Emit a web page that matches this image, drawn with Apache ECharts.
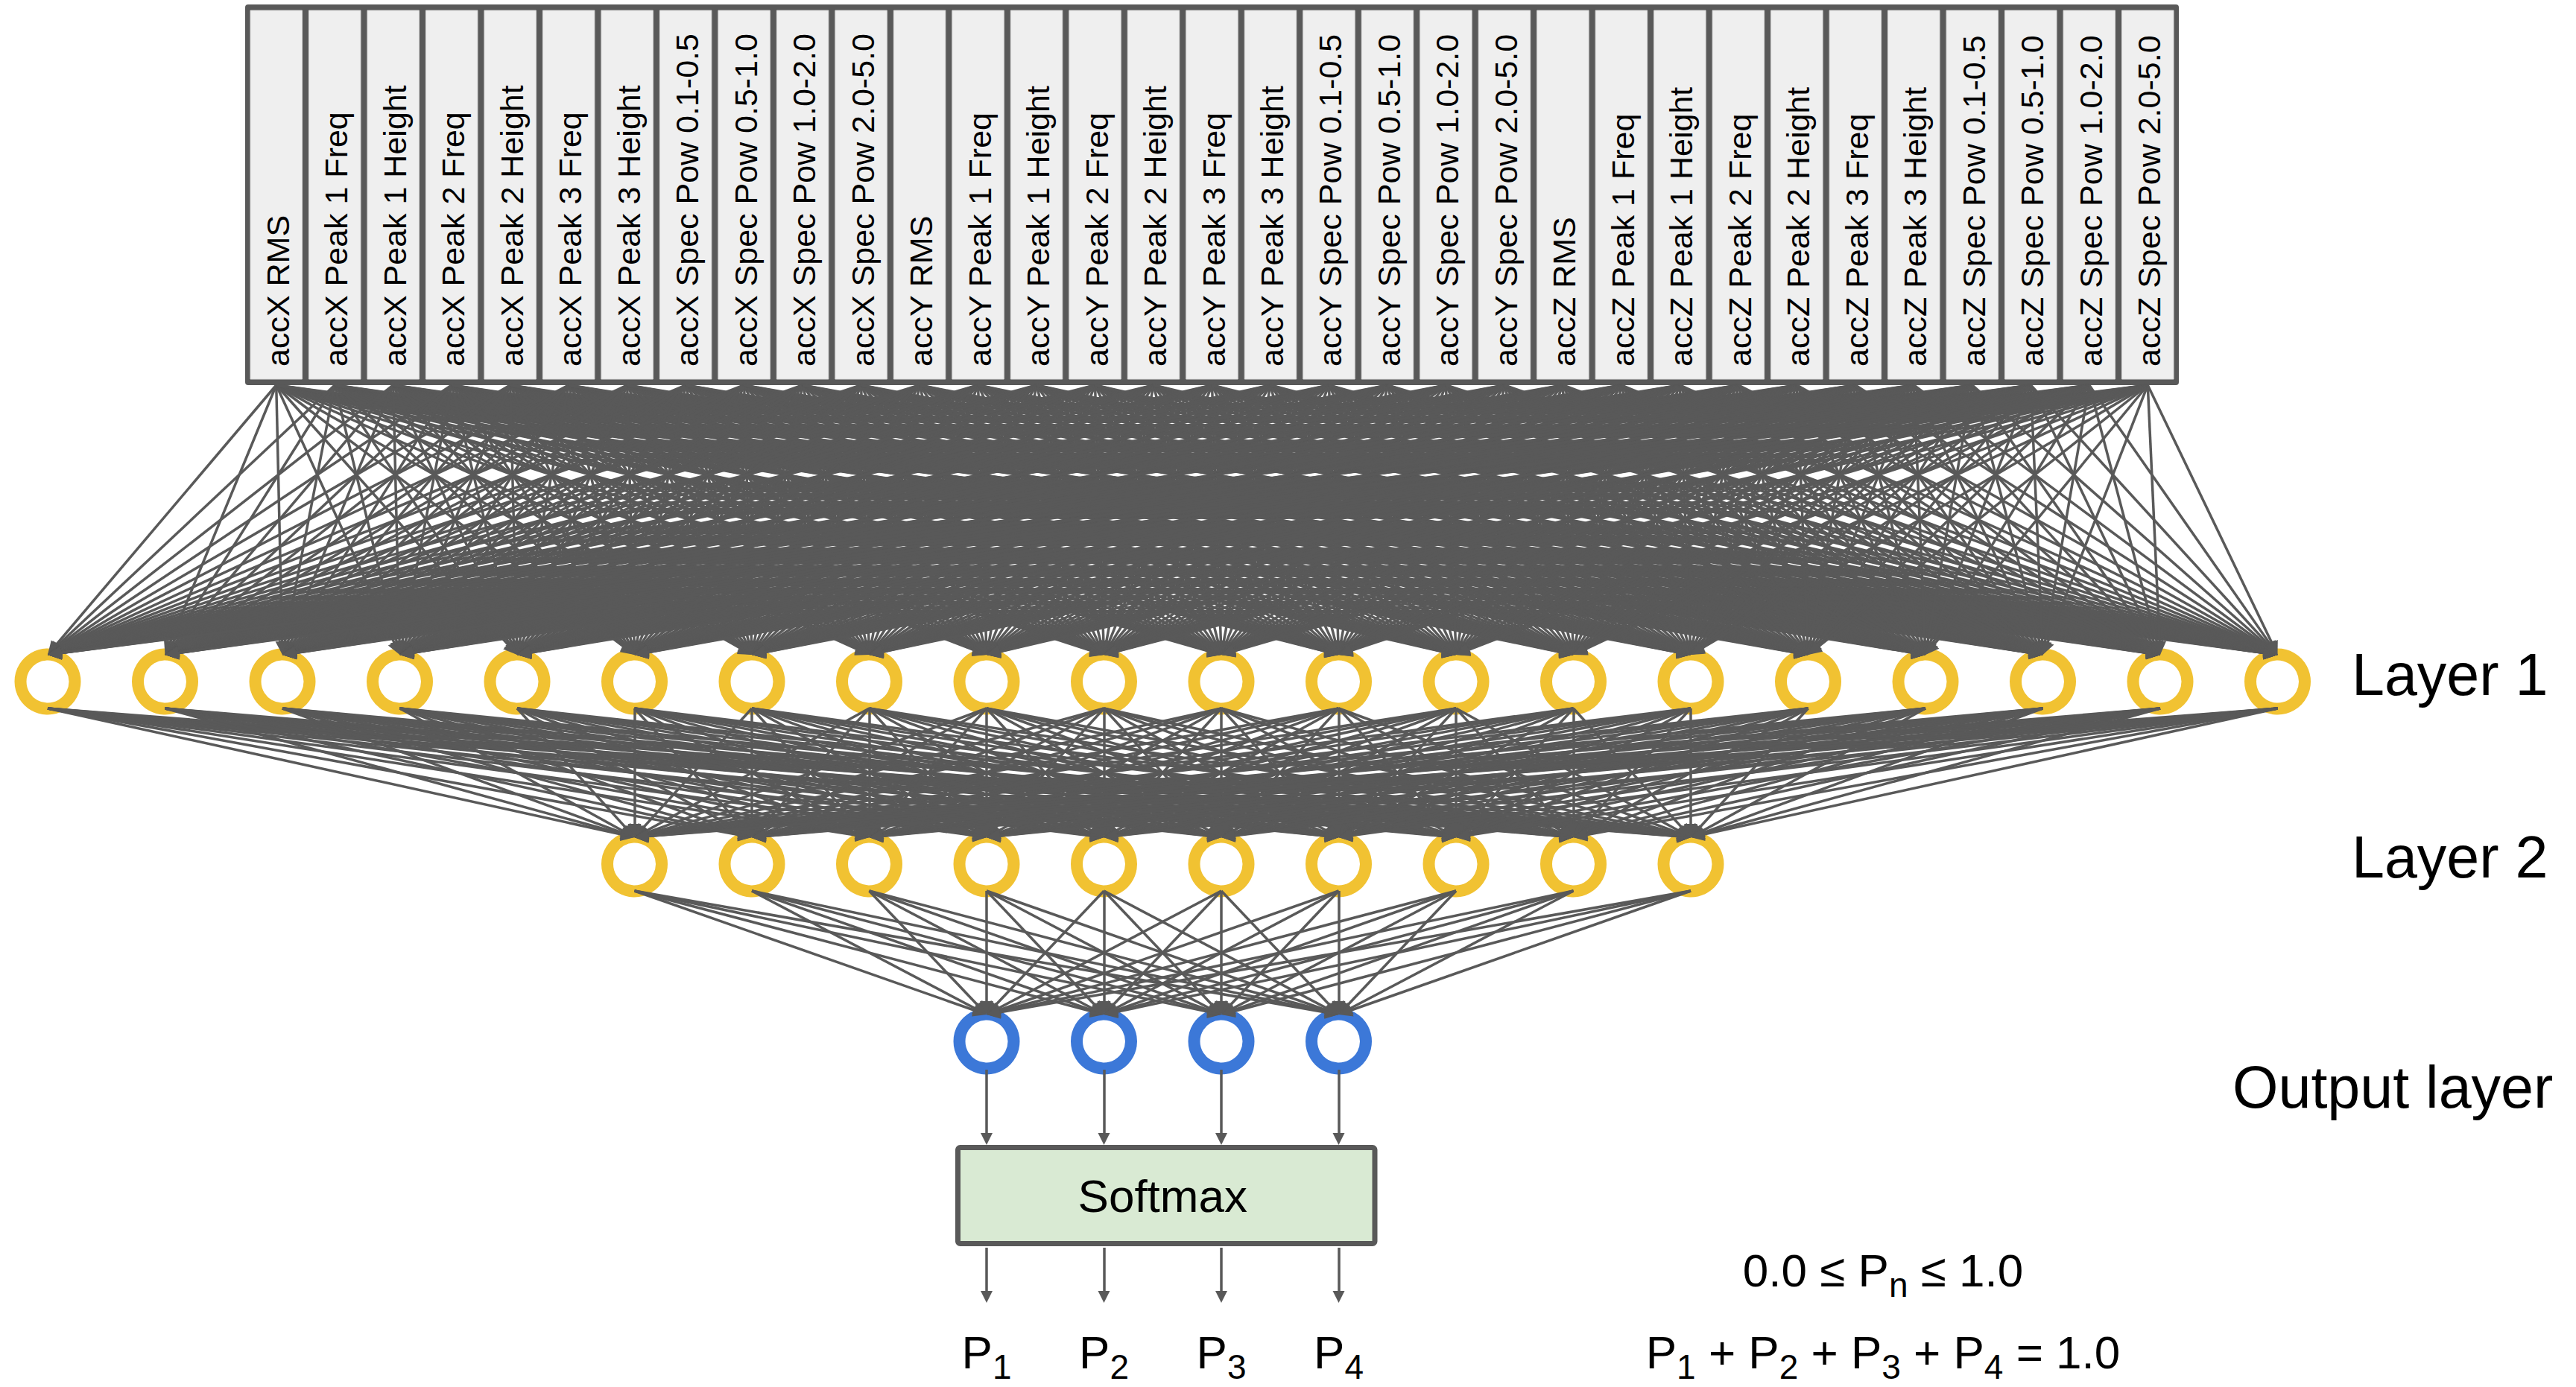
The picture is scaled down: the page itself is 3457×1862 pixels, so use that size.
<!DOCTYPE html>
<html>
<head>
<meta charset="utf-8">
<script src="https://cdn.jsdelivr.net/npm/echarts@6/dist/echarts.min.js"></script>
<style>
html,body{margin:0;padding:0;background:#ffffff;overflow:hidden;}
#chart{width:100vw;height:100vh;}
</style>
</head>
<body>
<div id="chart"></div>
<script>
// ---------------- data ----------------
const sensorAxes = ['accX', 'accY', 'accZ'];
const featureNames = ['RMS', 'Peak 1 Freq', 'Peak 1 Height', 'Peak 2 Freq', 'Peak 2 Height',
  'Peak 3 Freq', 'Peak 3 Height', 'Spec Pow 0.1-0.5', 'Spec Pow 0.5-1.0', 'Spec Pow 1.0-2.0', 'Spec Pow 2.0-5.0'];
const inputLabels = sensorAxes.flatMap(a => featureNames.map(f => a + ' ' + f));
const layer1Units = 20;
const layer2Units = 10;
const outputUnits = 4;
const layerNames = ['Layer 1', 'Layer 2', 'Output layer'];
const outputSubscripts = ['1', '2', '3', '4'];
const blockName = 'Softmax';
const rangeTokens = [['m', '0.0 \u2264 P'], ['s', 'n'], ['m', ' \u2264 1.0']];
const sumTotal = '1.0';

// ---------------- layout / style ----------------
const W = 3457, H = 1862;
const FONT = "'Liberation Sans', Arial, Helvetica, sans-serif";
const LINE = '#595959';
const YELLOW = '#f1c232';
const BLUE = '#3c78d8';
const L = {
  unitX0: 64, unitPitch: 157.5,
  rowL1: 915, rowL2: 1160, rowOut: 1398,
  ringSize: 73, ringWidth: 16, ringInset: 36,
  box: { left: 329, right: 2924, top: 6, bottom: 517, border: 7, divider: 9, textBottom: 492, textShift: 2, fontSize: 43 },
  soft: { padLeft: 42, padRight: 52, top: 1537, bottom: 1673, border: 7, fontSize: 62 },
  outStartGap: 38, pArrowTip: 1749,
  arrowBig: 18, arrowSmall: 16, lineWidth: 3.5,
  labelX: [3156, 3156, 2996], labelY: [905.5, 1150.5, 1459.5], labelFont: 79,
  mathFont: 62, subFont: 46, subDrop: 19, subBox: 34,
  pBaseline: 1837, formulaX: 2527, formulaBaselines: [1727, 1837]
};

const unitX = i => L.unitX0 + i * L.unitPitch;
const l2Off = (layer1Units - layer2Units) / 2;
const outOff = (layer1Units - outputUnits) / 2;
const nIn = inputLabels.length;
const cellInner = (L.box.right - L.box.left - 2 * L.box.border - (nIn - 1) * L.box.divider) / nIn;
const cellLeft = i => L.box.left + L.box.border + i * (cellInner + L.box.divider);
const cellX = i => cellLeft(i) + cellInner / 2;

function arrowCoords(x1, y1, x2, y2, size) {
  const dx = x2 - x1, dy = y2 - y1, len = Math.hypot(dx, dy);
  const k = (len - size / 2) / len;
  return { coords: [[x1, y1], [x1 + dx * k, y1 + dy * k]] };
}

// edges
const edgesIn = [];
for (let i = 0; i < nIn; i++) for (let j = 0; j < layer1Units; j++)
  edgesIn.push(arrowCoords(cellX(i), L.box.bottom, unitX(j), L.rowL1 - L.ringInset, L.arrowBig));
const edges12 = [];
for (let j = 0; j < layer1Units; j++) for (let k = 0; k < layer2Units; k++)
  edges12.push(arrowCoords(unitX(j), L.rowL1 + L.ringInset, unitX(l2Off + k), L.rowL2 - L.ringInset, L.arrowBig));
const edges2o = [];
for (let k = 0; k < layer2Units; k++) for (let m = 0; m < outputUnits; m++)
  edges2o.push(arrowCoords(unitX(l2Off + k), L.rowL2 + L.ringInset, unitX(outOff + m), L.rowOut - L.ringInset, L.arrowBig));
const edgesSoft = [], edgesProb = [];
for (let m = 0; m < outputUnits; m++) {
  const x = unitX(outOff + m);
  edgesSoft.push(arrowCoords(x, L.rowOut + L.outStartGap, x, L.soft.top, L.arrowSmall));
  edgesProb.push(arrowCoords(x, L.soft.bottom + 2, x, L.pArrowTip, L.arrowSmall));
}

function linesSeries(name, data, size) {
  return {
    name, type: 'lines', coordinateSystem: 'cartesian2d', silent: true, z: 3,
    symbol: ['none', 'triangle'], symbolSize: [0, size], progressive: 0, animation: false,
    lineStyle: { color: LINE, width: L.lineWidth, opacity: 1, curveness: 0 },
    data
  };
}
function ringSeries(name, count, offset, row, color) {
  const data = [];
  for (let i = 0; i < count; i++) data.push([unitX(offset + i), row]);
  return {
    name, type: 'scatter', silent: true, z: 2, symbol: 'circle', symbolSize: L.ringSize,
    itemStyle: { color: '#ffffff', borderColor: color, borderWidth: L.ringWidth, opacity: 1 },
    data, animation: false
  };
}

// rich text: main tokens centred at lineTop + mathFont/2, subscripts pushed down by top padding
const richStyles = {
  m: { fontSize: L.mathFont, lineHeight: L.mathFont, verticalAlign: 'top', fontFamily: FONT, fill: '#000' },
  s: { fontSize: L.subFont, height: L.subBox, verticalAlign: 'top', fontFamily: FONT, fill: '#000',
       padding: [L.mathFont / 2 + L.subDrop - L.subBox / 2, 0, 0, 0] }
};
const richText = tokens => tokens.map(t => '{' + t[0] + '|' + t[1] + '}').join('');
const topFromBaseline = b => b - (L.mathFont / 2 + 0.3465 * L.mathFont);

const sumTokens = [];
outputSubscripts.forEach((s, i) => {
  sumTokens.push(['m', (i === 0 ? '' : ' + ') + 'P']);
  sumTokens.push(['s', s]);
});
sumTokens.push(['m', ' = ' + sumTotal]);
const formulas = [rangeTokens, sumTokens];

const option = {
  animation: false,
  backgroundColor: '#ffffff',
  grid: { left: 0, right: 0, top: 0, bottom: 0, containLabel: false, outerBoundsMode: 'none' },
  xAxis: { type: 'value', min: 0, max: W, show: false },
  yAxis: { type: 'value', min: 0, max: H, inverse: true, show: false },
  series: [
    {
      name: 'inputs', type: 'custom', coordinateSystem: 'cartesian2d', silent: true, z: 1,
      data: inputLabels.map((t, i) => [i, 0]),
      renderItem(params, api) {
        const i = api.value(0);
        const children = [];
        if (i === 0) {
          const a = api.coord([L.box.left, L.box.top]);
          const b = api.coord([L.box.right, L.box.bottom]);
          children.push({ type: 'rect', shape: { x: a[0], y: a[1], width: b[0] - a[0], height: b[1] - a[1], r: 4 },
            style: { fill: LINE } });
        }
        const p = api.coord([cellLeft(i), L.box.top + L.box.border + 1]);
        const q = api.coord([cellLeft(i) + cellInner, L.box.bottom - L.box.border - 1]);
        children.push({ type: 'rect', shape: { x: p[0], y: p[1], width: q[0] - p[0], height: q[1] - p[1] },
          style: { fill: '#efefef', stroke: '#d6d6d6', lineWidth: 1 } });
        const t = api.coord([cellX(i) + L.box.textShift, L.box.textBottom]);
        children.push({ type: 'text', x: t[0], y: t[1], rotation: Math.PI / 2,
          style: { text: inputLabels[params.dataIndex], fontSize: L.box.fontSize, fontFamily: FONT, fill: '#000',
            align: 'left', verticalAlign: 'middle' } });
        return { type: 'group', children };
      }
    },
    linesSeries('in-l1', edgesIn, L.arrowBig),
    linesSeries('l1-l2', edges12, L.arrowBig),
    linesSeries('l2-out', edges2o, L.arrowBig),
    linesSeries('out-soft', edgesSoft, L.arrowSmall),
    linesSeries('soft-p', edgesProb, L.arrowSmall),
    ringSeries('Layer 1', layer1Units, 0, L.rowL1, YELLOW),
    ringSeries('Layer 2', layer2Units, l2Off, L.rowL2, YELLOW),
    ringSeries('Output layer', outputUnits, outOff, L.rowOut, BLUE),
    {
      name: 'softmax', type: 'custom', coordinateSystem: 'cartesian2d', silent: true, z: 1,
      data: [[0, 0]],
      renderItem(params, api) {
        const x0 = unitX(outOff) - L.soft.padLeft, x1 = unitX(outOff + outputUnits - 1) + L.soft.padRight;
        const h = L.soft.border / 2;
        const a = api.coord([x0 + h, L.soft.top + h]);
        const b = api.coord([x1 - h, L.soft.bottom - h]);
        const c = api.coord([(unitX(outOff) + unitX(outOff + outputUnits - 1)) / 2, (L.soft.top + L.soft.bottom) / 2]);
        return { type: 'group', children: [
          { type: 'rect', shape: { x: a[0], y: a[1], width: b[0] - a[0], height: b[1] - a[1], r: 3 },
            style: { fill: '#d9ead3', stroke: LINE, lineWidth: L.soft.border } },
          { type: 'text', x: c[0], y: c[1],
            style: { text: blockName, fontSize: L.soft.fontSize, fontFamily: FONT, fill: '#000', align: 'center', verticalAlign: 'middle' } }
        ] };
      }
    },
    {
      name: 'layerLabels', type: 'custom', coordinateSystem: 'cartesian2d', silent: true, z: 4,
      data: layerNames.map((n, i) => [i, 0]),
      renderItem(params, api) {
        const i = params.dataIndex;
        const p = api.coord([L.labelX[i], L.labelY[i]]);
        return { type: 'text', x: p[0], y: p[1],
          style: { text: layerNames[i], fontSize: L.labelFont, fontFamily: FONT, fill: '#000', align: 'left', verticalAlign: 'middle' } };
      }
    },
    {
      name: 'probLabels', type: 'custom', coordinateSystem: 'cartesian2d', silent: true, z: 4,
      data: outputSubscripts.map((s, i) => [i, 0]),
      renderItem(params, api) {
        const i = params.dataIndex;
        const p = api.coord([unitX(outOff + i), topFromBaseline(L.pBaseline)]);
        return { type: 'text', x: p[0], y: p[1],
          style: { text: richText([['m', 'P'], ['s', outputSubscripts[i]]]), rich: richStyles,
            fontSize: L.mathFont, fontFamily: FONT, fill: '#000', align: 'center', verticalAlign: 'top' } };
      }
    },
    {
      name: 'constraints', type: 'custom', coordinateSystem: 'cartesian2d', silent: true, z: 4,
      data: formulas.map((f, i) => [i, 0]),
      renderItem(params, api) {
        const i = params.dataIndex;
        const p = api.coord([L.formulaX, topFromBaseline(L.formulaBaselines[i])]);
        return { type: 'text', x: p[0], y: p[1],
          style: { text: richText(formulas[i]), rich: richStyles,
            fontSize: L.mathFont, fontFamily: FONT, fill: '#000', align: 'center', verticalAlign: 'top' } };
      }
    }
  ]
};

const chart = echarts.init(document.getElementById('chart'), null, { renderer: 'svg' });
chart.setOption(option);
window.addEventListener('resize', () => chart.resize());
</script>
</body>
</html>
